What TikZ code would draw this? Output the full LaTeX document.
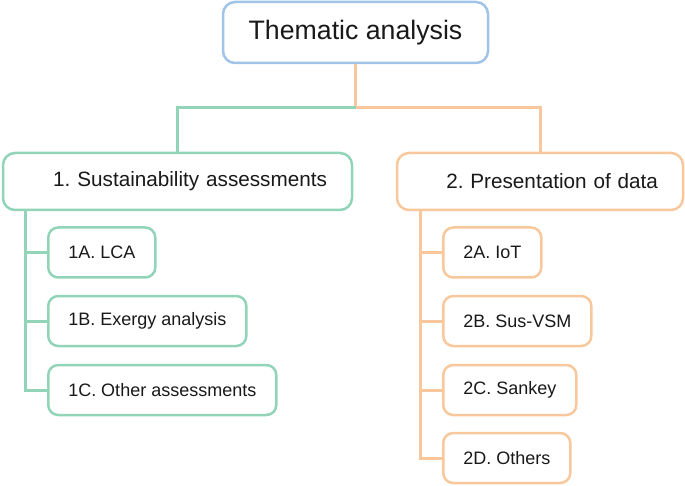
\documentclass[tikz,border=0pt]{standalone}
\usepackage{fontspec}
\setmainfont{Liberation Sans}
\frenchspacing
\definecolor{topblue}{RGB}{160,196,232}
\definecolor{leafgreen}{RGB}{146,212,184}
\definecolor{peach}{RGB}{248,200,156}
\tikzset{box/.style={rectangle,rounded corners=12pt,line width=2.5pt,fill=white,text=black!90}}
\tikzset{head/.style={box,minimum height=57pt,inner xsep=25pt,align=right,font=\fontsize{20.7}{24}\selectfont}}
\tikzset{leaf/.style={box,rounded corners=10pt,minimum height=50pt,inner xsep=20pt,anchor=west,font=\fontsize{18}{21}\selectfont}}
\tikzset{link/.style={line width=3pt}}

\begin{document}
\begin{tikzpicture}[x=1pt,y=-1pt]
      \useasboundingbox (0,0) rectangle (685,486);
      \node[box,draw=topblue,minimum width=265pt,minimum height=61pt,font=\fontsize{26.7}{30}\selectfont] (T) at (355.5,32.5) {Thematic analysis};
      \node[head,draw=leafgreen,text width=299pt] (S) at (177.5,181.5) {1. Sustainability assessments};
      \node[head,draw=peach,text width=236pt] (P) at (540,181.5) {2. Presentation of data};
      \coordinate (split) at (355.5,108);
      \coordinate (sl) at (25,210);
      \coordinate (pl) at (420,210);
      % branches of the left column
      \node[leaf,draw=leafgreen] (s1) at (47,252.5) {1A. LCA};
      \node[leaf,draw=leafgreen] (s2) at (47,321) {1B. Exergy analysis};
      \node[leaf,draw=leafgreen] (s3) at (47,390) {1C. Other assessments};
      % branches of the right column
      \node[leaf,draw=peach] (p1) at (442,252.5) {2A. IoT};
      \node[leaf,draw=peach] (p2) at (442,321) {2B. Sus-VSM};
      \node[leaf,draw=peach] (p3) at (442,390) {2C. Sankey};
      \node[leaf,draw=peach] (p4) at (442,458) {2D. Others};
        \draw[link,peach] (T) -- (split) -| (P);
        \draw[link,leafgreen] (split) -| (S);
        \foreach \n in {s1,s2,s3} \draw[link,leafgreen] (sl) |- (\n);
        \foreach \n in {p1,p2,p3,p4} \draw[link,peach] (pl) |- (\n);
    \end{tikzpicture}
\end{document}
